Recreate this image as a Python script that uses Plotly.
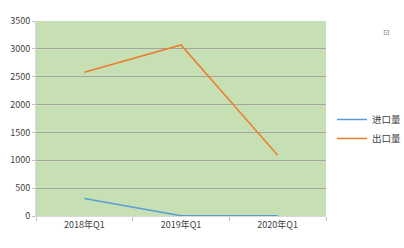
import plotly.graph_objects as go

categories = ["2018年Q1", "2019年Q1", "2020年Q1"]
imports = [315, 5, 3]
exports = [2580, 3070, 1090]
y_ticks = [0, 500, 1000, 1500, 2000, 2500, 3000, 3500]

font = "Noto Sans CJK SC, DejaVu Sans, sans-serif"

fig = go.Figure()
fig.add_trace(go.Scatter(x=categories, y=imports, name="进口量", mode="lines",
                         line=dict(color="#5B9BD5", width=1.5)))
fig.add_trace(go.Scatter(x=categories, y=exports, name="出口量", mode="lines",
                         line=dict(color="#ED7D31", width=1.5)))

fig.update_layout(
    width=404, height=248,
    margin=dict(l=36, r=78, t=21, b=32, autoexpand=False),
    paper_bgcolor="white",
    plot_bgcolor="#C6E0B4",
    font=dict(family=font, size=9, color="#404040"),
    showlegend=True,
    legend=dict(xref="container", yref="container", x=332/404, y=1 - 129/248,
                xanchor="left", yanchor="middle",
                bgcolor="rgba(0,0,0,0)", font=dict(size=9.5, color="#404040"),
                tracegroupgap=0, itemwidth=30),
    xaxis=dict(type="category", range=[-0.5, 2.5], tickson="boundaries",
               ticks="outside", ticklen=4, tickcolor="#BFBFBF",
               showline=True, linecolor="#D9D9D9", linewidth=1,
               showgrid=False, tickfont=dict(size=9, color="#404040")),
    yaxis=dict(range=[0, 3500], tickvals=y_ticks, ticks="outside", ticklen=3,
               tickcolor="#BFBFBF", showline=True, linecolor="#D9D9D9",
               gridcolor="#A5A5A5", gridwidth=1, zeroline=False,
               tickfont=dict(size=9, color="#404040")),
)
fig.add_annotation(xref="paper", yref="paper", x=(392 - 36) / 290, y=(216 - 24) / 195,
                   text="⊡", showarrow=False, font=dict(size=8, color="#808080"))
fig.write_html("out.html")
